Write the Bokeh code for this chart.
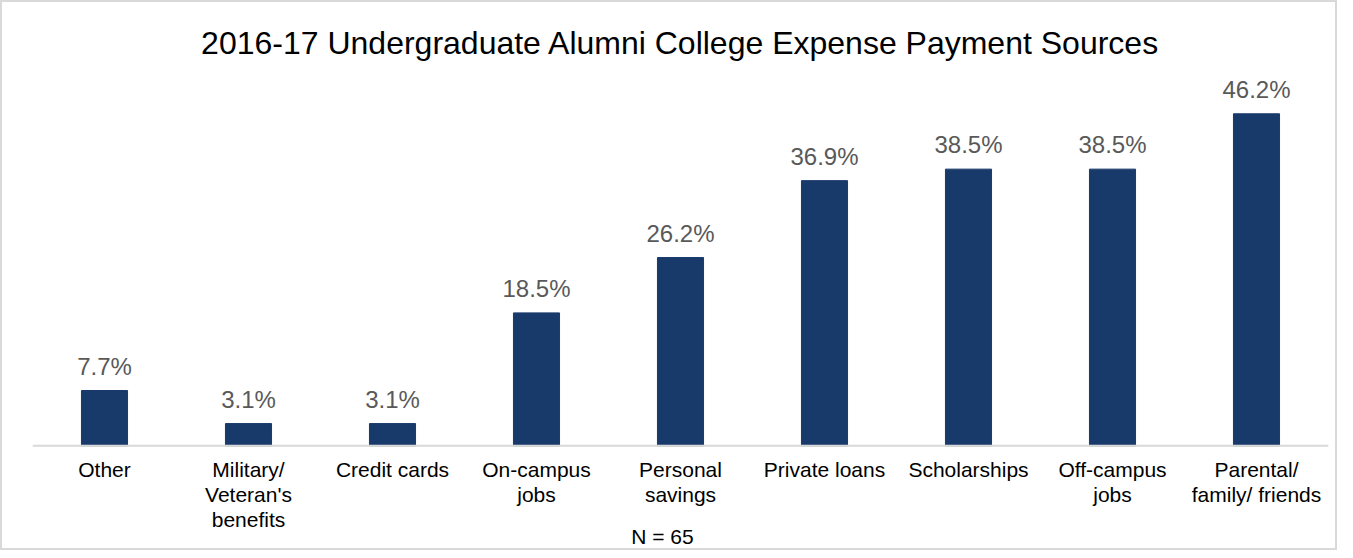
from bokeh.plotting import figure
from bokeh.models import ColumnDataSource, FactorRange, Range1d, Span
from bokeh.core.properties import value
from bokeh.embed import file_html
from bokeh.resources import INLINE

categories = ["Other", "Military/\nVeteran's\nbenefits", "Credit cards", "On-campus\njobs",
              "Personal\nsavings", "Private loans", "Scholarships", "Off-campus\njobs",
              "Parental/\nfamily/ friends"]
percent = [7.7, 3.1, 3.1, 18.5, 26.2, 36.9, 38.5, 38.5, 46.2]
labels = [f"{v:.1f}%" for v in percent]
title_text = "2016-17 Undergraduate Alumni College Expense Payment Sources"
note_text = "N = 65"

FONT = "Liberation Sans"

src = ColumnDataSource(dict(cat=categories, val=percent, lab=labels, base=[0] * len(categories)))

p = figure(x_range=FactorRange(*categories), y_range=Range1d(-14.84, 52.78),
           width=1337, height=550, output_backend="svg", toolbar_location=None,
           x_axis_location=None, y_axis_location=None,
           min_border_left=30, min_border_right=11, min_border_top=64, min_border_bottom=0)
p.styles = {"border": "2px solid #d9d9d9"}

p.title.text = title_text
p.title.align = "center"
p.title.text_font = FONT
p.title.text_font_size = "32px"
p.title.text_font_style = "normal"
p.title.text_color = "#000000"
p.title.standoff = 12

p.vbar(x="cat", top="val", width=0.32, source=src, color="#183A6A")
p.text(x="cat", y="val", text="lab", source=src, text_align="center", text_baseline="bottom",
       y_offset=-11, text_font=value(FONT), text_font_size="24px", text_color="#595959")

# category labels below the baseline
p.text(x="cat", y="base", text="cat", source=src, text_align="center", text_baseline="top",
       y_offset=12, text_font=value(FONT), text_font_size="21px", text_color="#000000",
       text_line_height=1.09)

baseline = Span(location=0, dimension="width", line_color="#d9d9d9", line_width=2)
p.add_layout(baseline)

note_src = ColumnDataSource(dict(x=[categories[4]], y=[0], t=[note_text]))
p.text(x="x", y="y", text="t", source=note_src, text_align="center", text_baseline="middle",
       x_offset=-18, y_offset=91, text_font=value(FONT), text_font_size="21px",
       text_color="#000000")

p.xgrid.grid_line_color = None
p.ygrid.grid_line_color = None
p.outline_line_color = None
p.x_range.range_padding = 0

open("out.html", "w").write(file_html(p, INLINE))
